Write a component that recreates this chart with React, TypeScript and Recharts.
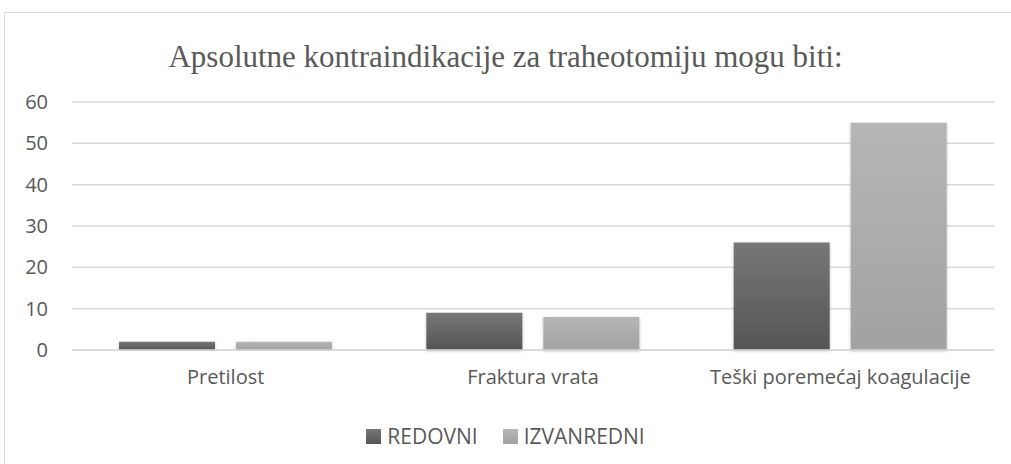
import { BarChart, Bar, XAxis, YAxis, CartesianGrid } from "recharts"

const categories = ["Pretilost", "Fraktura vrata", "Teški poremećaj koagulacije"]
const redovni = [2, 9, 26]
const izvanredni = [2, 8, 55]
const yTicks = [0, 10, 20, 30, 40, 50, 60]
const seriesNames = { redovni: "REDOVNI", izvanredni: "IZVANREDNI" }

const data = categories.map((name, i) => ({ name, redovni: redovni[i], izvanredni: izvanredni[i] }))

const FONT = "'Open Sans', 'Liberation Sans', sans-serif"
const TEXT = "#595959"

function LegendBox() {
  const items = [
    { label: seriesNames.redovni, color: "linear-gradient(#777, #555)" },
    { label: seriesNames.izvanredni, color: "linear-gradient(#b6b6b6, #a2a2a2)" },
  ]
  return (
    <div style={{ display: "flex", justifyContent: "center", gap: 25, fontFamily: FONT, fontSize: 21, color: TEXT }}>
      {items.map((it) => (
        <div key={it.label} style={{ display: "flex", alignItems: "center" }}>
          <span style={{ width: 15, height: 15, background: it.color, display: "inline-block", marginRight: 6 }} />
          <span>{it.label}</span>
        </div>
      ))}
    </div>
  )
}

export default function App() {
  return (
    <div style={{ position: "absolute", left: 0, top: 0, width: 1011, height: 464, background: "#fff", overflow: "hidden" }}>
      {/* outer chart frame */}
      <div style={{ position: "absolute", left: 4, top: 12, width: 1020, height: 470, border: "1.5px solid #d9d9d9" }} />
      <div
        style={{
          position: "absolute",
          left: 0,
          top: 39,
          width: 1011,
          textAlign: "center",
          fontFamily: "'Liberation Serif', 'Times New Roman', serif",
          fontSize: 31,
          color: TEXT,
        }}
      >
        Apsolutne kontraindikacije za traheotomiju mogu biti:
      </div>
      <div style={{ position: "absolute", left: 0, top: 0 }}>
        <BarChart
          width={1011}
          height={464}
          data={data}
          margin={{ top: 102, right: 17, left: 0, bottom: 64 }}
          barCategoryGap="15.3%"
          barGap={21}
        >
          <defs>
            <linearGradient id="gDark" x1="0" y1="0" x2="0" y2="1">
              <stop offset="0%" stopColor="#777777" />
              <stop offset="100%" stopColor="#555555" />
            </linearGradient>
            <linearGradient id="gLight" x1="0" y1="0" x2="0" y2="1">
              <stop offset="0%" stopColor="#b6b6b6" />
              <stop offset="100%" stopColor="#a2a2a2" />
            </linearGradient>
            <filter id="shadow" x="-10%" y="-10%" width="120%" height="120%">
              <feDropShadow dx="0" dy="1" stdDeviation="1.5" floodColor="#000" floodOpacity="0.25" />
            </filter>
          </defs>
          <CartesianGrid vertical={false} stroke="#d9d9d9" strokeWidth={1.5} />
          <XAxis
            dataKey="name"
            axisLine={{ stroke: "#d9d9d9", strokeWidth: 1.5 }}
            tickLine={false}
            tickSize={0}
            tickMargin={20}
            height={50}
            tick={{ fill: TEXT, fontSize: 20, fontFamily: FONT }}
            interval={0}
          />
          <YAxis
            domain={[0, 60]}
            ticks={yTicks}
            axisLine={false}
            tickLine={false}
            tickSize={0}
            tickMargin={24}
            width={72}
            tick={{ fill: TEXT, fontSize: 20, fontFamily: FONT }}
          />
          <Bar dataKey="redovni" name={seriesNames.redovni} fill="url(#gDark)" filter="url(#shadow)" isAnimationActive={false} />
          <Bar dataKey="izvanredni" name={seriesNames.izvanredni} fill="url(#gLight)" filter="url(#shadow)" isAnimationActive={false} />
        </BarChart>
      </div>
      <div style={{ position: "absolute", left: 0, top: 422, width: 1011 }}>
        <LegendBox />
      </div>
    </div>
  )
}
